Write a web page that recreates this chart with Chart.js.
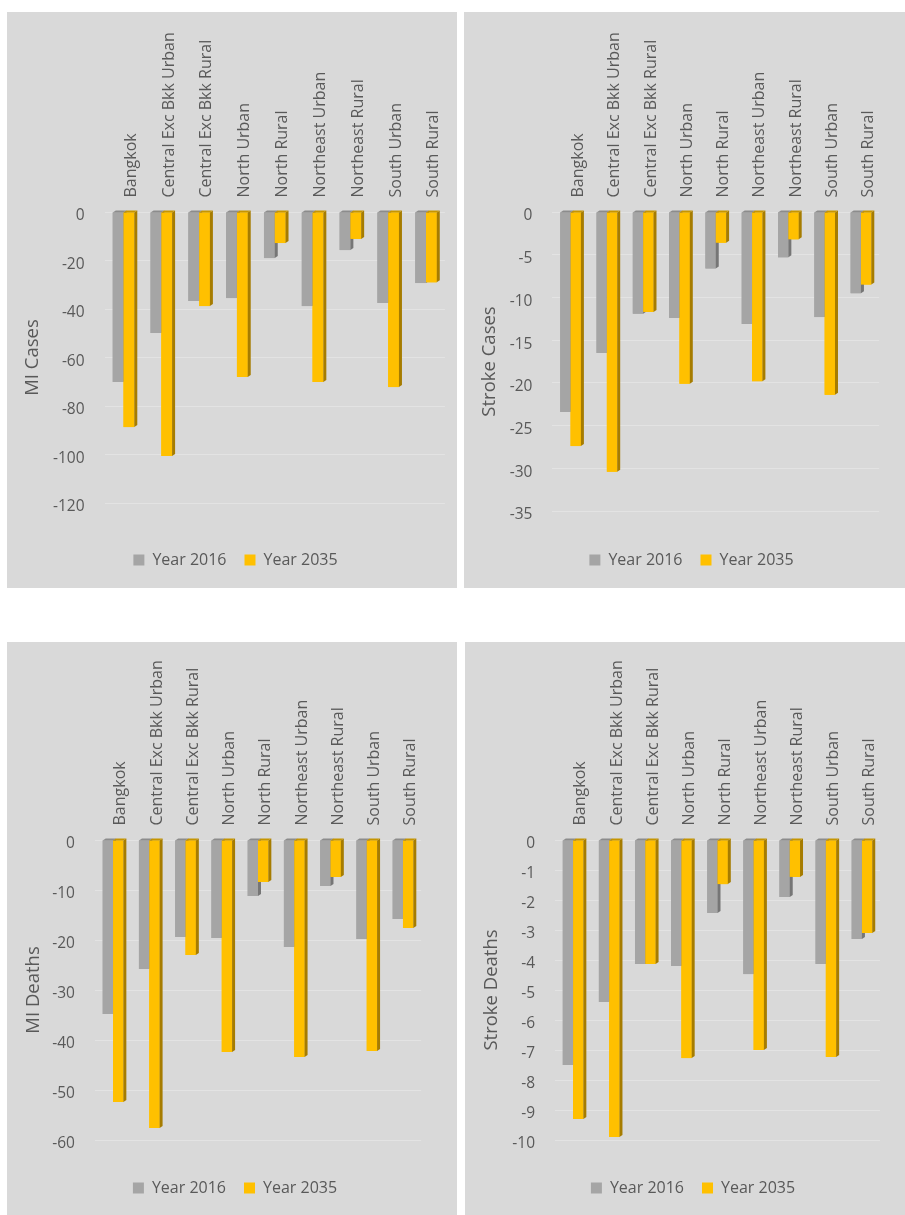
<!DOCTYPE html>
<html>
<head>
<meta charset="utf-8">
<title>Projected change by region</title>
<script src="https://cdn.jsdelivr.net/npm/chart.js@4.4.1/dist/chart.umd.min.js"></script>
<style>
  html, body { margin: 0; padding: 0; background: #ffffff; }
  body { position: relative; width: 905px; height: 1215px; overflow: hidden; }
  .panel { position: absolute; background: #d9d9d9; }
  .panel canvas { display: block; }
</style>
</head>
<body>
<div class="panel" style="left:7px;top:12px;width:450px;height:576px"><canvas id="miCases" width="450" height="576"></canvas></div>
<div class="panel" style="left:464px;top:12px;width:441px;height:576px"><canvas id="strokeCases" width="441" height="576"></canvas></div>
<div class="panel" style="left:7px;top:642px;width:450px;height:573px"><canvas id="miDeaths" width="450" height="573"></canvas></div>
<div class="panel" style="left:465px;top:642px;width:440px;height:573px"><canvas id="strokeDeaths" width="440" height="573"></canvas></div>
<script>
// Regions and series
const regions = ['Bangkok', 'Central Exc Bkk Urban', 'Central Exc Bkk Rural', 'North Urban', 'North Rural',
                 'Northeast Urban', 'Northeast Rural', 'South Urban', 'South Rural'];
const seriesNames = ['Year 2016', 'Year 2035'];

// MI cases
const miCases2016 = [-70.1, -49.9, -36.7, -35.5, -19.0, -38.8, -15.7, -37.5, -29.3];
const miCases2035 = [-88.7, -100.6, -38.8, -68.0, -12.8, -70.1, -11.1, -72.2, -29.0];
const miCasesTicks = [0, -20, -40, -60, -80, -100, -120];

// Stroke cases
const strokeCases2016 = [-23.4, -16.5, -11.9, -12.4, -6.6, -13.1, -5.3, -12.3, -9.5];
const strokeCases2035 = [-27.4, -30.4, -11.7, -20.1, -3.6, -19.8, -3.2, -21.4, -8.5];
const strokeCasesTicks = [0, -5, -10, -15, -20, -25, -30, -35];

// MI deaths
const miDeaths2016 = [-34.8, -25.8, -19.4, -19.6, -11.2, -21.4, -9.2, -19.8, -15.8];
const miDeaths2035 = [-52.4, -57.6, -23.0, -42.4, -8.4, -43.4, -7.4, -42.2, -17.6];
const miDeathsTicks = [0, -10, -20, -30, -40, -50, -60];

// Stroke deaths
const strokeDeaths2016 = [-7.5, -5.4, -4.13, -4.2, -2.43, -4.47, -1.9, -4.13, -3.3];
const strokeDeaths2035 = [-9.3, -9.9, -4.13, -7.27, -1.47, -7.0, -1.23, -7.23, -3.1];
const strokeDeathsTicks = [0, -1, -2, -3, -4, -5, -6, -7, -8, -9, -10];

const FONT = "'Open Sans', 'DejaVu Sans', sans-serif";
const TEXT = '#595959';
const FRONT = ['#a5a5a5', '#ffc000'];
const SIDE = ['#767676', '#a67c00'];
const TOP = ['#8c8c8c', '#c69500'];

// Adds a shallow side and top face to each column, series by series,
// so the later series sits in front of the earlier one.
const depthFaces = {
  id: 'depthFaces',
  afterDatasetsDraw(chart, args, opts) {
    const ctx = chart.ctx;
    const dx = opts.dx, dy = opts.dy;
    chart.data.datasets.forEach((ds, i) => {
      const meta = chart.getDatasetMeta(i);
      meta.data.forEach(bar => {
        const p = bar.getProps(['x', 'y', 'base', 'width'], true);
        const L = p.x - p.width / 2, R = p.x + p.width / 2;
        const top = Math.min(p.y, p.base), bot = Math.max(p.y, p.base);
        ctx.save();
        ctx.fillStyle = FRONT[i];
        ctx.fillRect(L, top, p.width, bot - top);
        ctx.fillStyle = SIDE[i];
        ctx.beginPath();
        ctx.moveTo(R, top); ctx.lineTo(R + dx, top - dy);
        ctx.lineTo(R + dx, bot - dy); ctx.lineTo(R, bot);
        ctx.closePath(); ctx.fill();
        ctx.fillStyle = TOP[i];
        ctx.beginPath();
        ctx.moveTo(L, top); ctx.lineTo(L + dx, top - dy);
        ctx.lineTo(R + dx, top - dy); ctx.lineTo(R, top);
        ctx.closePath(); ctx.fill();
        ctx.restore();
      });
    });
  }
};

function buildChart(id, axisTitle, v2016, v2035, ticks, box) {
  return new Chart(document.getElementById(id), {
    type: 'bar',
    data: {
      labels: regions,
      datasets: [
        { label: seriesNames[0], data: v2016, backgroundColor: FRONT[0], borderWidth: 0 },
        { label: seriesNames[1], data: v2035, backgroundColor: FRONT[1], borderWidth: 0 }
      ]
    },
    options: {
      responsive: false,
      animation: false,
      events: [],
      layout: { padding: { left: box.padLeft, top: 0, right: box.padRight, bottom: box.padBottom } },
      datasets: { bar: { categoryPercentage: 0.57, barPercentage: 1.0 } },
      scales: {
        x: {
          position: 'top',
          grid: { display: false },
          border: { display: false },
          ticks: {
            autoSkip: false, minRotation: 90, maxRotation: 90,
            padding: 6.5, labelOffset: 27,
            color: TEXT, font: { family: FONT, size: 16 }
          },
          afterFit: s => { s.height = box.topHeight; }
        },
        y: {
          min: ticks[ticks.length - 1], max: ticks[0],
          grid: { color: '#e3e3e3', lineWidth: 1, drawTicks: false },
          border: { display: false },
          ticks: { padding: 20, labelOffset: 4, color: TEXT, font: { family: FONT, size: 15.5 } },
          afterBuildTicks: s => { s.ticks = ticks.map(v => ({ value: v })); },
          title: {
            display: true, text: axisTitle, color: TEXT,
            font: { family: FONT, size: 18.5 }, padding: { top: box.titlePad, bottom: 0 }
          },
          afterFit: s => { s.width = box.leftWidth; }
        }
      },
      plugins: {
        tooltip: { enabled: false },
        depthFaces: { dx: 3, dy: 2 },
        legend: {
          position: 'bottom', align: 'center',
          title: { display: true, text: ' ', font: { size: 1, lineHeight: 1 }, padding: { top: box.legendGap, bottom: 0 } },
          labels: {
            boxWidth: 11, boxHeight: 11, padding: 18,
            color: TEXT, font: { family: FONT, size: 16 }
          }
        }
      }
    },
    plugins: [depthFaces]
  });
}

buildChart('miCases', 'MI Cases', miCases2016, miCases2035, miCasesTicks,
  { padLeft: 19.1, leftWidth: 78.5, padRight: 12.1, topHeight: 200, padBottom: 10, legendGap: 30, titlePad: -4.2 });
buildChart('strokeCases', 'Stroke Cases', strokeCases2016, strokeCases2035, strokeCasesTicks,
  { padLeft: 39.9, leftWidth: 48.5, padRight: 25.9, topHeight: 200, padBottom: 10, legendGap: 22, titlePad: -25 });
buildChart('miDeaths', 'MI Deaths', miDeaths2016, miDeaths2035, miDeathsTicks,
  { padLeft: 41.9, leftWidth: 46, padRight: 35.9, topHeight: 198, padBottom: 9, legendGap: 21, titlePad: -26 });
buildChart('strokeDeaths', 'Stroke Deaths', strokeDeaths2016, strokeDeaths2035, strokeDeathsTicks,
  { padLeft: 41, leftWidth: 49, padRight: 25, topHeight: 198, padBottom: 9, legendGap: 21, titlePad: -25.1 });
</script>
</body>
</html>
